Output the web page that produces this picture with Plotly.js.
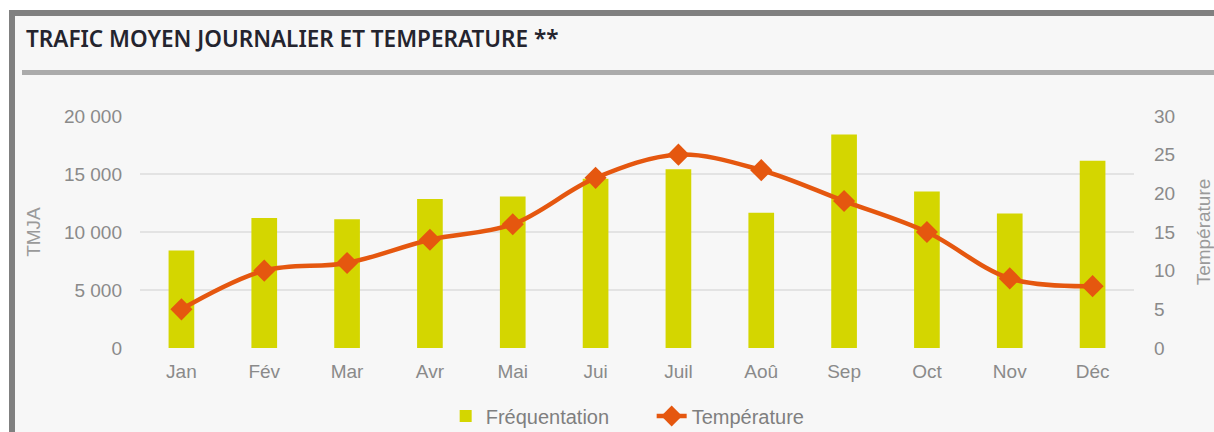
<!DOCTYPE html>
<html><head><meta charset="utf-8">
<script src="https://cdn.plot.ly/plotly-3.0.1.min.js"></script>
<style>
html,body{margin:0;padding:0;background:#ffffff;width:1214px;height:432px;overflow:hidden;}
#frame{position:absolute;left:9px;top:10px;width:1205px;height:422px;background:#f7f7f7;border-left:6px solid #808080;border-top:6px solid #808080;box-sizing:border-box;}
#sep{position:absolute;left:22px;top:70px;width:1192px;height:5px;background:#ababab;}
#chart{position:absolute;left:0;top:0;width:1214px;height:432px;}
</style></head>
<body>
<div id="frame"></div><div id="sep"></div><div id="chart"></div>
<script>
const months = ['Jan','Fév','Mar','Avr','Mai','Jui','Juil','Aoû','Sep','Oct','Nov','Déc'];
const frequentation = [8400, 11200, 11100, 12850, 13050, 14600, 15400, 11650, 18400, 13500, 11600, 16150];
const temperature = [5, 10, 11, 14, 16, 22, 25, 23, 19, 15, 9, 8];
const leftTickVals = [0, 5000, 10000, 15000, 20000];
const leftTickText = ['0', '5 000', '10 000', '15 000', '20 000'];
const rightTickVals = [0, 5, 10, 15, 20, 25, 30];

const tickFont = {family: 'Liberation Sans, Arial, sans-serif', size: 19, color: '#8a8a8a'};

const traces = [
  {
    type: 'bar', name: 'Fréquentation', x: months, y: frequentation,
    width: 0.31, marker: {color: '#d4d600'}, hoverinfo: 'skip'
  },
  {
    type: 'scatter', mode: 'lines+markers', name: 'Température', x: months, y: temperature,
    yaxis: 'y2',
    line: {color: '#e5570f', width: 4.5, shape: 'spline', smoothing: 1},
    marker: {symbol: 'diamond', size: 17, color: '#e5570f'}, hoverinfo: 'skip'
  }
];

const layout = {
  width: 1214, height: 432,
  margin: {l: 140, r: 80, t: 116, b: 84},
  paper_bgcolor: 'rgba(0,0,0,0)', plot_bgcolor: 'rgba(0,0,0,0)',
  showlegend: true,
  title: {
    text: 'TRAFIC MOYEN JOURNALIER ET TEMPERATURE **',
    xref: 'container', x: 26/1214, xanchor: 'left',
    yref: 'container', y: 1 - 39/432, yanchor: 'middle',
    font: {family: 'Noto Sans, sans-serif', size: 22.5, color: '#24242e', weight: 600}
  },
  xaxis: {
    type: 'category', range: [-0.5, 11.5],
    showgrid: false, zeroline: false, showline: false, ticks: '',
    tickfont: tickFont, ticklabelstandoff: 10, fixedrange: true
  },
  yaxis: {
    range: [0, 20000], tickvals: leftTickVals, ticktext: leftTickText,
    showgrid: true, gridcolor: '#e3e3e3', gridwidth: 1.5,
    zeroline: false, showline: false, ticks: '',
    tickfont: tickFont, ticklabelstandoff: 17,
    title: {text: 'TMJA', font: {family: 'Liberation Sans, Arial, sans-serif', size: 19, color: '#9a9a9a'}, standoff: 18},
    fixedrange: true
  },
  yaxis2: {
    range: [0, 30], tickvals: rightTickVals, overlaying: 'y', side: 'right',
    showgrid: false, zeroline: false, showline: false, ticks: '',
    tickfont: tickFont, ticklabelstandoff: 19,
    title: {text: 'Température', font: {family: 'Liberation Sans, Arial, sans-serif', size: 19, color: '#9a9a9a'}, standoff: 24},
    fixedrange: true
  },
  legend: {
    orientation: 'h', xref: 'container', x: 0.5368, xanchor: 'center',
    yref: 'container', y: 1 - 416/432, yanchor: 'middle',
    font: {family: 'Liberation Sans, Arial, sans-serif', size: 20, color: '#7f7f7f'},
    bgcolor: 'rgba(0,0,0,0)', traceorder: 'normal', entrywidth: 161
  }
};

Plotly.newPlot('chart', traces, layout, {displayModeBar: false, staticPlot: true});
</script>
</body></html>
